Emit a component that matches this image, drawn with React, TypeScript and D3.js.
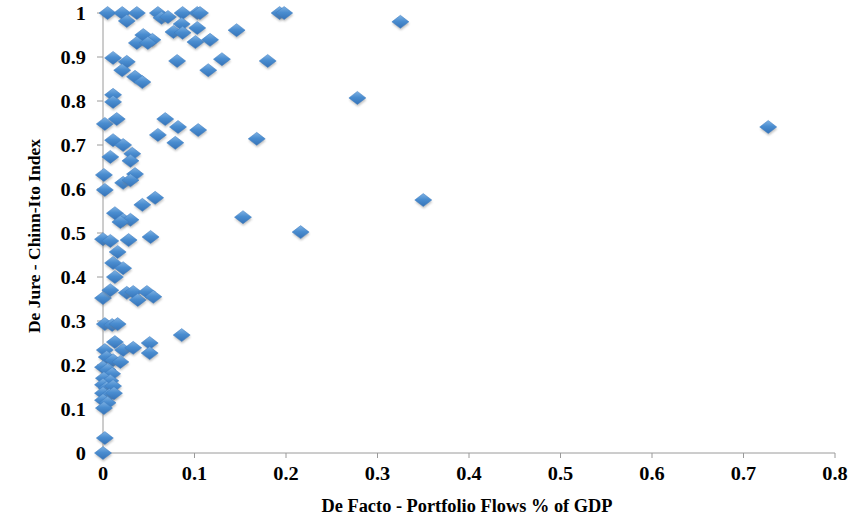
import React from "react";
import * as d3 from "d3";

// De Facto - portfolio flows (% of GDP)
const portfolioFlows = [
  0.005, 0.021, 0.026, 0.037, 0.06, 0.064, 0.071, 0.087, 0.103, 0.106,
  0.193, 0.198, 0.325, 0.086, 0.077, 0.087, 0.103, 0.146, 0.044, 0.054,
  0.037, 0.049, 0.101, 0.117, 0.011, 0.026, 0.021, 0.081, 0.13, 0.18,
  0.115, 0.035, 0.043, 0.011, 0.011, 0.278, 0.002, 0.015, 0.068, 0.082,
  0.104, 0.06, 0.011, 0.022, 0.079, 0.168, 0.727, 0.008, 0.032, 0.03,
  0.001, 0.022, 0.035, 0.03, 0.002, 0.043, 0.057, 0.013, 0.022, 0.03,
  0.019, 0.153, 0.35, 0.216, 0.0, 0.008, 0.028, 0.052, 0.016, 0.011,
  0.022, 0.013, 0.0, 0.008, 0.026, 0.033, 0.038, 0.048, 0.055, 0.002,
  0.01, 0.016, 0.086, 0.013, 0.022, 0.033, 0.051, 0.051, 0.002, 0.004,
  0.011, 0.019, 0.0, 0.005, 0.01, 0.001, 0.008, 0.0, 0.004, 0.011,
  0.0, 0.007, 0.012, 0.0, 0.005, 0.001, 0.002, 0.0,
];

// De Jure - Chinn-Ito index, same order
const chinnIto = [
  1.0, 1.0, 0.982, 1.0, 1.0, 0.989, 0.991, 1.0, 1.0, 1.0,
  1.0, 1.0, 0.98, 0.975, 0.957, 0.955, 0.966, 0.961, 0.95, 0.939,
  0.932, 0.932, 0.934, 0.939, 0.898, 0.889, 0.87, 0.891, 0.895, 0.891,
  0.87, 0.855, 0.843, 0.814, 0.798, 0.807, 0.748, 0.759, 0.759, 0.741,
  0.734, 0.723, 0.711, 0.7, 0.705, 0.714, 0.741, 0.673, 0.68, 0.664,
  0.632, 0.614, 0.634, 0.62, 0.598, 0.564, 0.58, 0.545, 0.53, 0.53,
  0.525, 0.536, 0.575, 0.502, 0.486, 0.482, 0.484, 0.491, 0.457, 0.432,
  0.42, 0.4, 0.352, 0.37, 0.364, 0.366, 0.348, 0.366, 0.355, 0.293,
  0.291, 0.293, 0.268, 0.252, 0.234, 0.239, 0.25, 0.227, 0.234, 0.218,
  0.211, 0.207, 0.195, 0.189, 0.18, 0.17, 0.164, 0.155, 0.148, 0.152,
  0.136, 0.132, 0.136, 0.12, 0.114, 0.102, 0.034, 0.0,
];

const xTicks = [0, 0.1, 0.2, 0.3, 0.4, 0.5, 0.6, 0.7, 0.8];
const yTicks = [0, 0.1, 0.2, 0.3, 0.4, 0.5, 0.6, 0.7, 0.8, 0.9, 1];

const width = 855;
const height = 523;

export default function App() {
  const x = d3.scaleLinear().domain([0, 0.8]).range([103, 835]);
  const y = d3.scaleLinear().domain([0, 1]).range([453, 13]);

  // excel style diamond marker
  const diamond = "M0,-6.5L8.5,0L0,6.5L-8.5,0Z";
  const font = "'Liberation Serif', 'Times New Roman', serif";
  const axisColor = "#9a9a9a";

  const points = d3.zip(portfolioFlows, chinnIto);

  return (
    <svg
      width={width}
      height={height}
      style={{ position: "absolute", left: 0, top: 0, background: "#fff" }}
    >
      <defs>
        <linearGradient id="mk" x1="0" y1="0" x2="0" y2="1">
          <stop offset="0%" stopColor="#7fb2e3" />
          <stop offset="45%" stopColor="#4a8dd0" />
          <stop offset="100%" stopColor="#3573b8" />
        </linearGradient>
        <filter id="sh" x="-50%" y="-50%" width="200%" height="200%">
          <feGaussianBlur stdDeviation="1.3" />
        </filter>
      </defs>

      {/* axes */}
      <line x1={x(0)} x2={x(0)} y1={y(1)} y2={y(0)} stroke={axisColor} />
      <line x1={x(0)} x2={x(0.8)} y1={y(0)} y2={y(0)} stroke={axisColor} />
      {yTicks.map((t) => (
        <g key={"y" + t}>
          <line x1={x(0) - 6} x2={x(0)} y1={y(t)} y2={y(t)} stroke={axisColor} />
          <text
            transform={`translate(86,${y(t) + 6.5}) scale(1.1,1)`}
            textAnchor="end"
            fontFamily={font}
            fontWeight="bold"
            fontSize={18.5}
            fill="#000"
          >
            {d3.format("")(t)}
          </text>
        </g>
      ))}
      {xTicks.map((t) => (
        <g key={"x" + t}>
          <line x1={x(t)} x2={x(t)} y1={y(0)} y2={y(0) + 5} stroke={axisColor} />
          <text
            transform={`translate(${x(t)},480) scale(1.1,1)`}
            textAnchor="middle"
            fontFamily={font}
            fontWeight="bold"
            fontSize={18.5}
            fill="#000"
          >
            {d3.format("")(t)}
          </text>
        </g>
      ))}

      {/* markers */}
      {points.map(([px, py], i) => (
        <g key={i} transform={`translate(${x(px)},${y(py)})`}>
          <path d={diamond} transform="translate(0.5,2)" fill="#777" opacity={0.45} filter="url(#sh)" />
          <path d={diamond} fill="url(#mk)" stroke="#3a7bc0" strokeWidth={0.5} />
        </g>
      ))}

      {/* axis titles */}
      <text
        transform="translate(467,512) scale(1.02,1)"
        textAnchor="middle"
        fontFamily={font}
        fontWeight="bold"
        fontSize={18}
      >
        De Facto - Portfolio Flows % of GDP
      </text>
      <text
        transform="translate(40,236) rotate(-90)"
        textAnchor="middle"
        fontFamily={font}
        fontWeight="bold"
        fontSize={17.5}
      >
        De Jure - Chinn-Ito Index
      </text>
    </svg>
  );
}
